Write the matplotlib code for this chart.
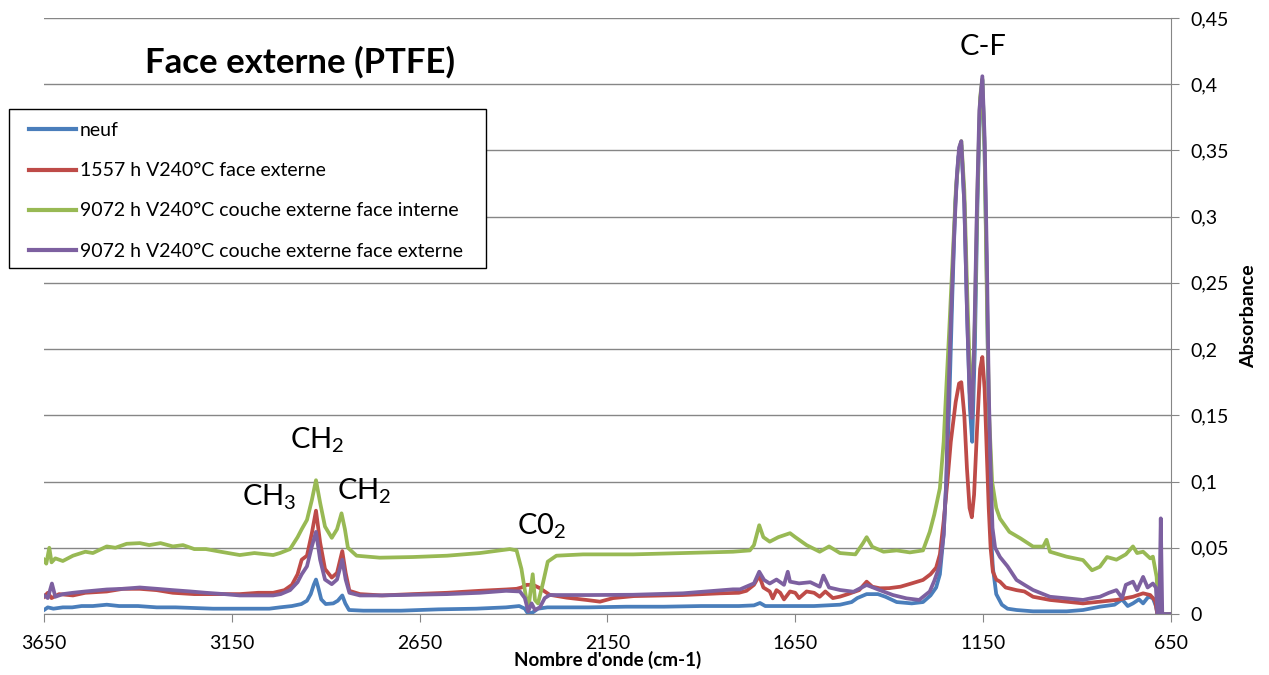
import matplotlib
matplotlib.use('Agg')
import matplotlib.pyplot as plt
from matplotlib.patches import Rectangle
from matplotlib.ticker import FuncFormatter

plt.rcParams['font.family'] = ['Lato', 'DejaVu Sans']
plt.rcParams['mathtext.default'] = 'regular'

# --- data (wavenumber cm-1, absorbance) ---
wn_neuf = [3650, 3640, 3625, 3600, 3575, 3550, 3520, 3483, 3450, 3400, 3350, 3300, 3250, 3200,
           3150, 3100, 3050, 3022, 2990, 2965, 2950, 2940, 2932, 2926, 2920, 2912, 2900, 2880,
           2868, 2856, 2848, 2838, 2800, 2700, 2600, 2500, 2420, 2385, 2370, 2362, 2350, 2335,
           2310, 2200, 2100, 2000, 1900, 1800, 1760, 1744, 1730, 1700, 1600, 1531, 1500, 1485,
           1460, 1430, 1410, 1380, 1340, 1310, 1290, 1275, 1265, 1255, 1248, 1240, 1232, 1224,
           1216, 1208, 1200, 1192, 1185, 1179, 1172, 1165, 1158, 1152, 1146, 1140, 1134, 1129,
           1124, 1115, 1100, 1085, 1061, 1017, 972, 928, 884, 839, 800, 780, 765, 751, 735, 724,
           710, 698, 690, 686, 650]
abs_neuf = [0.003, 0.005, 0.004, 0.005, 0.005, 0.006, 0.006, 0.007, 0.006, 0.006, 0.005, 0.005,
            0.0045, 0.004, 0.004, 0.004, 0.004, 0.005, 0.006, 0.0075, 0.010, 0.015, 0.022, 0.026,
            0.020, 0.011, 0.0075, 0.008, 0.010, 0.014, 0.008, 0.003, 0.0025, 0.0025, 0.0035,
            0.004, 0.005, 0.006, 0.004, 0.0005, 0.001, 0.004, 0.005, 0.005, 0.0055, 0.0055,
            0.006, 0.006, 0.0065, 0.0083, 0.006, 0.006, 0.006, 0.007, 0.009, 0.012, 0.015, 0.015,
            0.013, 0.009, 0.008, 0.009, 0.014, 0.020, 0.030, 0.060, 0.100, 0.160, 0.240, 0.310,
            0.345, 0.354, 0.310, 0.220, 0.155, 0.130, 0.200, 0.310, 0.385, 0.403, 0.350, 0.250,
            0.130, 0.060, 0.035, 0.015, 0.007, 0.004, 0.003, 0.002, 0.002, 0.002, 0.003, 0.0055,
            0.007, 0.011, 0.006, 0.008, 0.011, 0.008, 0.013, 0.012, 0.006, 0.0, 0.0]

wn_1557 = [3650, 3640, 3630, 3610, 3573, 3540, 3483, 3440, 3395, 3350, 3307, 3250, 3219, 3170,
           3129, 3080, 3040, 3010, 2990, 2975, 2964, 2950, 2937, 2926, 2915, 2902, 2884, 2870,
           2856, 2847, 2837, 2809, 2750, 2668, 2577, 2490, 2420, 2392, 2379, 2365, 2348, 2330,
           2304, 2258, 2206, 2170, 2135, 2080, 1950, 1850, 1800, 1780, 1760, 1746, 1735, 1718,
           1710, 1700, 1690, 1680, 1664, 1650, 1640, 1620, 1600, 1585, 1570, 1550, 1531, 1510,
           1480, 1460, 1445, 1425, 1400, 1370, 1340, 1310, 1290, 1275, 1265, 1255, 1245, 1236,
           1223, 1214, 1208, 1200, 1193, 1186, 1180, 1174, 1166, 1158, 1152, 1146, 1140, 1135,
           1130, 1124, 1115, 1105, 1090, 1061, 1040, 1017, 972, 928, 884, 839, 795, 751, 724,
           705, 692, 686, 650]
abs_1557 = [0.013, 0.016, 0.012, 0.015, 0.014, 0.016, 0.017, 0.019, 0.019, 0.018, 0.016, 0.015,
            0.015, 0.015, 0.015, 0.016, 0.016, 0.018, 0.022, 0.030, 0.041, 0.044, 0.061, 0.078,
            0.054, 0.034, 0.0275, 0.031, 0.0475, 0.031, 0.0175, 0.015, 0.014, 0.015, 0.016,
            0.0175, 0.0185, 0.019, 0.020, 0.022, 0.022, 0.0195, 0.0145, 0.0123, 0.0106, 0.0093,
            0.012, 0.0135, 0.0143, 0.0156, 0.016, 0.0175, 0.022, 0.029, 0.020, 0.017, 0.0118,
            0.018, 0.016, 0.011, 0.017, 0.016, 0.012, 0.017, 0.016, 0.013, 0.017, 0.012, 0.0131,
            0.015, 0.018, 0.0244, 0.0206, 0.0194, 0.0195, 0.0206, 0.0231, 0.0257, 0.030, 0.035,
            0.045, 0.070, 0.100, 0.130, 0.160, 0.174, 0.175, 0.150, 0.110, 0.080, 0.073, 0.090,
            0.140, 0.185, 0.194, 0.170, 0.120, 0.080, 0.050, 0.032, 0.026, 0.0244, 0.020, 0.018,
            0.017, 0.013, 0.0106, 0.0093, 0.008, 0.0093, 0.0106, 0.013, 0.0156, 0.0143, 0.010,
            0.0, 0.0]

wn_9072_int = [3650, 3644, 3636, 3630, 3620, 3600, 3573, 3540, 3520, 3483, 3460, 3430, 3395, 3370,
               3340, 3307, 3280, 3250, 3219, 3180, 3129, 3090, 3040, 3022, 2995, 2975, 2964, 2950,
               2937, 2926, 2915, 2902, 2884, 2870, 2858, 2849, 2841, 2818, 2756, 2668, 2577, 2490,
               2410, 2392, 2379, 2370, 2361, 2349, 2343, 2335, 2322, 2309, 2286, 2215, 2082, 1949,
               1816, 1771, 1760, 1746, 1735, 1718, 1695, 1664, 1650, 1620, 1585, 1560, 1531, 1490,
               1470, 1460, 1445, 1415, 1380, 1345, 1310, 1292, 1280, 1265, 1255, 1247, 1240, 1234,
               1222, 1212, 1208, 1200, 1192, 1185, 1179, 1172, 1165, 1158, 1152, 1146, 1140, 1134,
               1126, 1115, 1105, 1080, 1050, 1017, 990, 981, 972, 928, 884, 860, 839, 820, 795,
               770, 751, 740, 724, 705, 698, 688, 683, 650]
abs_9072_int = [0.041, 0.038, 0.050, 0.039, 0.042, 0.040, 0.044, 0.047, 0.046, 0.051, 0.050,
                0.053, 0.0535, 0.052, 0.0535, 0.051, 0.052, 0.049, 0.049, 0.047, 0.0445, 0.046,
                0.0445, 0.046, 0.049, 0.058, 0.064, 0.071, 0.086, 0.101, 0.084, 0.066, 0.0575,
                0.064, 0.076, 0.064, 0.050, 0.044, 0.0425, 0.043, 0.044, 0.046, 0.049, 0.048,
                0.034, 0.018, 0.003, 0.030, 0.0105, 0.008, 0.023, 0.0395, 0.044, 0.045, 0.045,
                0.046, 0.047, 0.048, 0.052, 0.067, 0.058, 0.0546, 0.058, 0.061, 0.058, 0.052,
                0.047, 0.051, 0.046, 0.045, 0.0533, 0.058, 0.0507, 0.047, 0.048, 0.0465, 0.048,
                0.062, 0.075, 0.095, 0.130, 0.176, 0.215, 0.251, 0.323, 0.353, 0.357, 0.320, 0.240,
                0.180, 0.162, 0.220, 0.320, 0.390, 0.404, 0.350, 0.240, 0.150, 0.100, 0.080, 0.072,
                0.062, 0.057, 0.0509, 0.0509, 0.056, 0.047, 0.0433, 0.0407, 0.033, 0.0357, 0.043,
                0.041, 0.045, 0.051, 0.046, 0.047, 0.042, 0.0433, 0.028, 0.0, 0.0]

wn_9072_ext = [3650, 3640, 3629, 3620, 3600, 3573, 3540, 3483, 3440, 3395, 3350, 3307, 3260, 3219,
               3170, 3129, 3080, 3040, 3020, 2995, 2975, 2964, 2950, 2937, 2926, 2915, 2902, 2884,
               2870, 2856, 2847, 2837, 2809, 2756, 2668, 2577, 2490, 2420, 2383, 2370, 2361, 2352,
               2343, 2330, 2317, 2304, 2200, 2082, 1949, 1816, 1797, 1760, 1746, 1733, 1718, 1700,
               1680, 1670, 1664, 1640, 1610, 1585, 1575, 1560, 1531, 1495, 1460, 1425, 1390, 1354,
               1320, 1292, 1280, 1265, 1255, 1248, 1244, 1236, 1228, 1220, 1214, 1208, 1200, 1193,
               1186, 1180, 1174, 1167, 1160, 1152, 1146, 1140, 1135, 1130, 1125, 1118, 1105, 1085,
               1061, 1040, 1017, 972, 928, 884, 860, 839, 815, 795, 780, 770, 751, 740, 724, 712,
               698, 690, 686, 681, 677, 673, 650]
abs_9072_ext = [0.014, 0.012, 0.023, 0.013, 0.015, 0.016, 0.017, 0.0185, 0.019, 0.020, 0.019,
                0.018, 0.017, 0.016, 0.015, 0.014, 0.014, 0.014, 0.015, 0.018, 0.024, 0.030, 0.036,
                0.051, 0.062, 0.041, 0.026, 0.0225, 0.026, 0.041, 0.026, 0.016, 0.014, 0.014,
                0.0145, 0.015, 0.016, 0.0175, 0.017, 0.012, 0.002, 0.008, 0.003, 0.005, 0.012,
                0.0143, 0.0143, 0.0145, 0.0156, 0.0186, 0.0186, 0.0231, 0.0319, 0.0257, 0.023,
                0.026, 0.022, 0.0319, 0.0244, 0.0231, 0.024, 0.0206, 0.029, 0.020, 0.0181, 0.0168,
                0.0219, 0.018, 0.0143, 0.0118, 0.0106, 0.017, 0.025, 0.037, 0.060, 0.100, 0.150,
                0.220, 0.280, 0.330, 0.352, 0.357, 0.310, 0.230, 0.168, 0.148, 0.200, 0.300, 0.380,
                0.406, 0.360, 0.270, 0.170, 0.110, 0.065, 0.050, 0.043, 0.036, 0.0257, 0.022,
                0.0181, 0.013, 0.0118, 0.0106, 0.012, 0.013, 0.016, 0.018, 0.012, 0.022, 0.0244,
                0.018, 0.028, 0.020, 0.023, 0.020, 0.0, 0.0, 0.0722, 0.0, 0.0]

x_ticks = [3650, 3150, 2650, 2150, 1650, 1150, 650]

series = [
    (wn_neuf, abs_neuf, 'neuf', '#4A7EBB'),
    (wn_1557, abs_1557, '1557 h V240°C face externe', '#BE4B48'),
    (wn_9072_int, abs_9072_int, '9072 h V240°C couche externe face interne', '#98B954'),
    (wn_9072_ext, abs_9072_ext, '9072 h V240°C couche externe face externe', '#7D60A0'),
]

fig = plt.figure(figsize=(12.69, 6.75), dpi=100)
ax = fig.add_axes([0.0347, 0.0904, 0.888, 0.883])

for wn, ab, label, color in series:
    ax.plot(wn, ab, color=color, lw=2.7, label=label, solid_joinstyle='round')

ax.set_xlim(3650, 650)
ax.set_ylim(0, 0.45)
ax.set_xticks(x_ticks)
ax.set_yticks([i * 0.05 for i in range(10)])
ax.yaxis.set_major_formatter(FuncFormatter(lambda v, p: f'{v:.2f}'.rstrip('0').rstrip('.').replace('.', ',')))
ax.yaxis.tick_right()
ax.yaxis.set_label_position('right')
ax.grid(axis='y', color='#868686', lw=1)
ax.set_axisbelow(True)
for s in ['top', 'left']:
    ax.spines[s].set_visible(False)
for s in ['bottom', 'right']:
    ax.spines[s].set_color('#868686')
ax.tick_params(axis='both', direction='out', length=6, color='#868686', labelsize=14)
ax.tick_params(axis='x', pad=9)
ax.tick_params(axis='y', pad=8)

ax.set_xlabel("Nombre d'onde (cm-1)", fontsize=13.5, fontweight='bold', labelpad=-1)
ax.set_ylabel('Absorbance', fontsize=14, fontweight='bold', labelpad=8)

# band labels
ax.text(2922, 0.131, 'CH$_2$', fontsize=21, ha='center', va='center')
ax.text(3050, 0.088, 'CH$_3$', fontsize=21, ha='center', va='center')
ax.text(2797, 0.093, 'CH$_2$', fontsize=21, ha='center', va='center')
ax.text(2325, 0.066, 'C0$_2$', fontsize=21, ha='center', va='center')
ax.text(1150, 0.428, 'C-F', fontsize=21, ha='center', va='center')

fig.text(0.114, 0.908, 'Face externe (PTFE)', fontsize=25, fontweight='bold', va='center')

# legend frame drawn as a figure patch, entries placed inside it
fig.patches.append(Rectangle((0.0071, 0.603), 0.3759, 0.2356, transform=fig.transFigure,
                             facecolor='white', edgecolor='black', lw=1, zorder=3))
leg = fig.legend(loc='upper left', bbox_to_anchor=(0.0229, 0.819), frameon=False,
                 fontsize=14, handlelength=2.4, handletextpad=0.2, labelspacing=1.19,
                 borderpad=0, borderaxespad=0)
leg.set_zorder(4)
for line in leg.get_lines():
    line.set_linewidth(3)

fig.savefig('out.png', dpi=100)
